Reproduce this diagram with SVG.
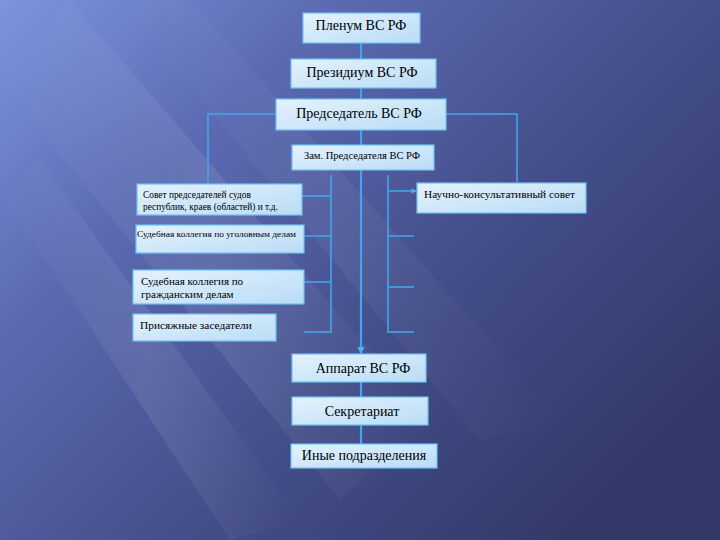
<svg xmlns="http://www.w3.org/2000/svg" width="720" height="540" viewBox="0 0 720 540">
<defs>
<linearGradient id="bg" x1="0" y1="0" x2="1" y2="0.75">
<stop offset="0" stop-color="#7d94de"/>
<stop offset="0.3" stop-color="#5b6ab2"/>
<stop offset="0.65" stop-color="#434d88"/>
<stop offset="1" stop-color="#323968"/>
</linearGradient>
<linearGradient id="streak" x1="0" y1="0" x2="1" y2="0">
<stop offset="0" stop-color="#ffffff" stop-opacity="0"/>
<stop offset="0.5" stop-color="#ffffff" stop-opacity="0.09"/>
<stop offset="1" stop-color="#ffffff" stop-opacity="0"/>
</linearGradient>
<linearGradient id="box" x1="0" y1="0" x2="1" y2="1">
<stop offset="0" stop-color="#e4f2fd"/>
<stop offset="1" stop-color="#b9dcf6"/>
</linearGradient>
<marker id="arr" viewBox="0 0 6 6" refX="5" refY="3" markerWidth="3.5" markerHeight="3.5" orient="auto">
<path d="M0,0 L6,3 L0,6 z" fill="#4ab0f5"/>
</marker>
<style>
.b{fill:url(#box);stroke:#6cc4f4;stroke-width:1.2}
.t{font-family:"Liberation Serif","DejaVu Serif",serif;fill:#000}
.c{fill:none;stroke:#3fa6f0;stroke-width:1.6}
.cm{fill:none;stroke:#3fa6f0;stroke-width:2.2}
</style>
</defs>
<rect width="720" height="540" fill="url(#bg)"/>
<polygon points="0,80 70,0 430,420 340,500" fill="url(#streak)"/>
<polygon points="0,190 40,160 300,520 230,540" fill="url(#streak)"/>
<polygon points="120,0 190,0 560,420 480,440" fill="url(#streak)" opacity="0.6"/>

<g id="connectors">
<line class="cm" x1="361" y1="43" x2="361" y2="59"/>
<line class="cm" x1="361" y1="88" x2="361" y2="99"/>
<line class="cm" x1="361" y1="130" x2="361" y2="145"/>
<line class="cm" x1="361" y1="170" x2="361" y2="353" marker-end="url(#arr)"/>
<line class="cm" x1="361" y1="382" x2="361" y2="397"/>
<line class="cm" x1="361" y1="425" x2="361" y2="444"/>
<polyline class="c" points="276,114 208,114 208,183"/>
<polyline class="c" points="445,114 517,114 517,182"/>
<line class="c" x1="331" y1="175" x2="331" y2="333"/>
<line class="c" x1="302" y1="196" x2="331" y2="196"/>
<line class="c" x1="304" y1="236" x2="331" y2="236"/>
<line class="c" x1="304" y1="282" x2="331" y2="282"/>
<line class="c" x1="304" y1="332" x2="331" y2="332"/>
<line class="c" x1="388" y1="175" x2="388" y2="333"/>
<line class="c" x1="388" y1="191" x2="416" y2="191" marker-end="url(#arr)"/>
<line class="c" x1="388" y1="236" x2="414" y2="236"/>
<line class="c" x1="388" y1="287" x2="414" y2="287"/>
<line class="c" x1="388" y1="332" x2="414" y2="332"/>
</g>

<g id="plenum"><rect class="b" x="303" y="13" width="117" height="30"/><text class="t" x="361" y="30" font-size="14" text-anchor="middle">Пленум ВС РФ</text></g>
<g id="presidium"><rect class="b" x="291" y="59" width="145" height="29"/><text class="t" x="362" y="77" font-size="14" text-anchor="middle">Президиум ВС РФ</text></g>
<g id="chairman"><rect class="b" x="276" y="99" width="170" height="31"/><text class="t" x="359" y="118" font-size="14" text-anchor="middle">Председатель ВС РФ</text></g>
<g id="deputy"><rect class="b" x="292" y="145" width="142" height="25"/><text class="t" x="362" y="159" font-size="10.5" text-anchor="middle">Зам. Председателя ВС РФ</text></g>
<g id="council"><rect class="b" x="137" y="184" width="165" height="31"/><text class="t" font-size="9.4"><tspan x="143" y="198">Совет председателей судов</tspan><tspan x="143" y="210">республик, краев (областей) и т.д.</tspan></text></g>
<g id="criminal"><rect class="b" x="136" y="225" width="168" height="28"/><text class="t" x="137" y="237" font-size="8.5" textLength="159" lengthAdjust="spacingAndGlyphs">Судебная коллегия по уголовным делам</text></g>
<g id="civil"><rect class="b" x="133" y="270" width="171" height="34"/><text class="t" font-size="11"><tspan x="141" y="285">Судебная коллегия по</tspan><tspan x="141" y="298">гражданским делам</tspan></text></g>
<g id="jurors"><rect class="b" x="133" y="314" width="143" height="27"/><text class="t" x="140" y="329" font-size="11.4">Присяжные  заседатели</text></g>
<g id="science"><rect class="b" x="417" y="183" width="169" height="30"/><text class="t" x="424" y="198" font-size="11.3">Научно-консультативный совет</text></g>
<g id="apparatus"><rect class="b" x="292" y="354" width="134" height="28"/><text class="t" x="363" y="373" font-size="14" text-anchor="middle">Аппарат ВС РФ</text></g>
<g id="secretariat"><rect class="b" x="292" y="397" width="136" height="28"/><text class="t" x="362" y="416" font-size="14" text-anchor="middle">Секретариат</text></g>
<g id="other"><rect class="b" x="291" y="444" width="146" height="24"/><text class="t" x="364" y="460" font-size="14" text-anchor="middle">Иные подразделения</text></g>
</svg>
